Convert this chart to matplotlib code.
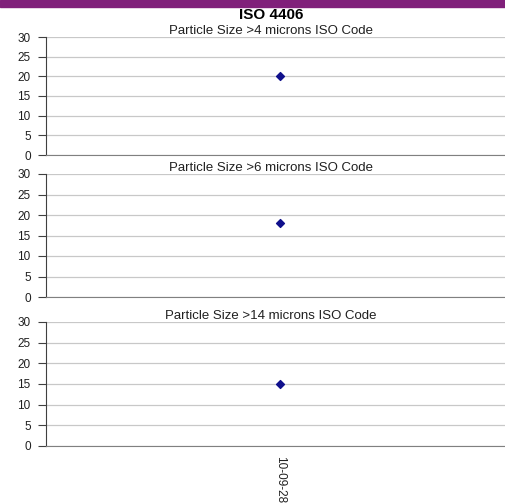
import matplotlib
matplotlib.use("Agg")
import matplotlib.pyplot as plt
from matplotlib.patches import Rectangle

plt.rcParams['font.family'] = ['Liberation Sans', 'DejaVu Sans']

dates = ['10-09-28']
size_titles = ['Particle Size >4 microns ISO Code',
               'Particle Size >6 microns ISO Code',
               'Particle Size >14 microns ISO Code']
iso_codes = [[20], [18], [15]]
y_ticks = [0, 5, 10, 15, 20, 25, 30]

fig = plt.figure(figsize=(5.06, 5.04), dpi=100)

# purple strip across the top
fig.patches.append(Rectangle((0, 1 - 7 / 504), 1, 7 / 504, transform=fig.transFigure,
                             color='#80207a', zorder=0))
fig.text(0.535, 1 - 15 / 504, 'ISO 4406', ha='center', va='center',
         fontsize=11, fontweight='bold')

# panel boxes in pixels: (top, bottom)
panels = [(37, 155), (174, 297), (322, 446)]
left, right = 46, 505

for i, (top, bottom) in enumerate(panels):
    ax = fig.add_axes([left / 506, 1 - bottom / 504, (right - left) / 506, (bottom - top) / 504])
    ax.scatter(range(len(dates)), iso_codes[i], marker='D', s=16, color='#10108c', zorder=3)
    ax.set_ylim(0, 30)
    ax.set_yticks(y_ticks)
    ax.set_xlim(-0.51, 0.49)
    ax.grid(axis='y', color='#c8c8c8', linewidth=0.9)
    ax.set_axisbelow(True)
    for s in ['top', 'right']:
        ax.spines[s].set_visible(False)
    ax.spines['left'].set_color('#404040')
    ax.spines['bottom'].set_color('#808080')
    ax.tick_params(axis='y', labelsize=8.5, length=6, width=0.8, color='#404040', pad=5,
                   labelcolor='#202020')
    ax.set_title(size_titles[i], fontsize=9.5, pad=1, color='#202020', x=0.49)
    if i < 2:
        ax.set_xticks([])
    else:
        ax.set_xticks(range(len(dates)))
        ax.set_xticklabels(dates, rotation=270, fontsize=8.5, color='#202020')
        ax.tick_params(axis='x', length=0, pad=7)

fig.savefig('out.png', dpi=100)
